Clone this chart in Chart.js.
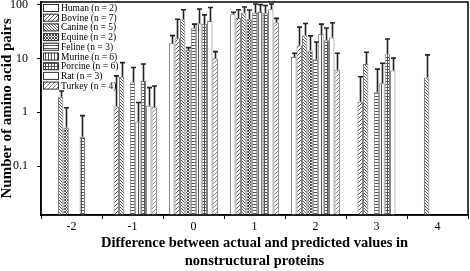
<!DOCTYPE html>
<html>
<head>
<meta charset="utf-8">
<script src="https://cdn.jsdelivr.net/npm/chart.js@4.4.1/dist/chart.umd.min.js"></script>
<style>
  html, body { margin: 0; padding: 0; background: #fff; }
  #wrap { width: 470px; height: 271px; }
</style>
</head>
<body>
<div id="wrap"><canvas id="chart" width="470" height="271"></canvas></div>
<script>
// categories on the x axis
const categories = ["-2", "-1", "0", "1", "2", "3", "4"];
const yTicks = [0.1, 1, 10, 100];

const speciesLabels = [
  "Human (n = 2)", "Bovine (n = 7)", "Canine (n = 5)", "Equine (n = 2)",
  "Feline (n = 3)", "Murine (n = 6)", "Porcine (n = 6)", "Rat (n = 3)", "Turkey (n = 4)"
];

// mean number of amino acid pairs per difference value
const human   = [null, null, 19.4, 67, 10.7, null, null];
const bovine  = [null, 1.28, 24, 57, 17.5, 1.58, null];
const canine  = [1.96, 4.6, 54, 72, 27, 7.96, 4.43];
const equine  = [0.52, null, 14.5, 54, 14.1, null, null];
const feline  = [null, 3.63, 36.8, 71, 9.7, 2.37, null];
const murine  = [null, 0.67, 45.6, 74, 28.8, 3.48, null];
const porcine = [0.35, 3.85, 44, 70, 22, 12.1, null];
const rat     = [null, 1.33, 50, 83, 24.6, 6.0, null];
const turkey  = [null, 1.24, 10.2, 47, 6.2, null, null];

// upper error (SD) for each bar
const humanErr   = [null, null, 7.4, 6, 1.9, null, null];
const bovineErr  = [null, 3.5, 30, 24, 21, 3.0, null];
const canineErr  = [0.54, 3.8, 27, 19, 18, 5.2, 7.3];
const equineErr  = [0.7, null, 1.5, 26, 12.4, null, null];
const felineErr  = [null, 3.2, 6.9, 33, 10.6, 4.0, null];
const murineErr  = [null, 0.85, 38, 27, 15, 4.7, null];
const porcineErr = [0.52, 4.1, 21, 27, 15, 11, null];
const ratErr     = [null, 1.55, 39, 21, 22, 4.2, null];
const turkeyErr  = [null, 1.85, 3.3, 9, 6.4, null, null];

const seriesValues = [human, bovine, canine, equine, feline, murine, porcine, rat, turkey];
const seriesErrors = [humanErr, bovineErr, canineErr, equineErr, felineErr, murineErr, porcineErr, ratErr, turkeyErr];

const canvas = document.getElementById("chart");
const ctx = canvas.getContext("2d");

// small pixel patterns for the hatched fills
function makePattern(size, color, test) {
  const c = document.createElement("canvas");
  c.width = size;
  c.height = size;
  const g = c.getContext("2d");
  g.fillStyle = "#fff";
  g.fillRect(0, 0, size, size);
  g.fillStyle = color;
  for (let x = 0; x < size; x++) {
    for (let y = 0; y < size; y++) {
      if (test(x, y, size)) g.fillRect(x, y, 1, 1);
    }
  }
  return ctx.createPattern(c, "repeat");
}

const fills = [
  "#ffffff",
  makePattern(4, "#555", (x, y, s) => (x + y) % s === 0),
  makePattern(3, "#555", (x, y, s) => (x - y + s) % s === 0),
  makePattern(3, "#444", (x, y, s) => (x + y) % s === 0 || (x - y + s) % s === 0),
  makePattern(3, "#555", (x, y, s) => y % s === 0),
  makePattern(3, "#555", (x, y, s) => x % s === 0),
  makePattern(3, "#555", (x, y, s) => x % s === 0 || y % s === 0),
  "#ffffff",
  makePattern(4, "#888", (x, y, s) => (x + y) % s === 0)
];

const datasets = speciesLabels.map((label, i) => ({
  label: label,
  data: seriesValues[i],
  errors: seriesErrors[i],
  backgroundColor: fills[i],
  borderColor: "#777",
  borderWidth: 1,
  barPercentage: 1.0,
  categoryPercentage: 0.8
}));

const errorBars = {
  id: "errorBars",
  afterDatasetsDraw(chart) {
    const yScale = chart.scales.y;
    const g = chart.ctx;
    g.save();
    g.strokeStyle = "#222";
    g.lineWidth = 1.6;
    chart.data.datasets.forEach((ds, i) => {
      const meta = chart.getDatasetMeta(i);
      meta.data.forEach((bar, j) => {
        const v = ds.data[j];
        const e = ds.errors[j];
        if (v == null || e == null) return;
        const yTop = yScale.getPixelForValue(v + e);
        const x = Math.round(bar.x) + 0.5;
        g.beginPath();
        g.moveTo(x, bar.y);
        g.lineTo(x, yTop);
        g.moveTo(x - 2.5, yTop);
        g.lineTo(x + 2.5, yTop);
        g.stroke();
      });
    });
    g.restore();
  }
};

const frameAndLegend = {
  id: "frameAndLegend",
  afterDraw(chart) {
    const g = chart.ctx;
    const a = chart.chartArea;
    g.save();
    g.strokeStyle = "#000";
    g.lineWidth = 1.5;
    g.strokeRect(a.left, a.top, a.right - a.left, a.bottom - a.top);

    // legend in the top left corner of the plot
    g.font = "9.5px 'Liberation Serif', serif";
    g.textBaseline = "middle";
    chart.data.datasets.forEach((ds, i) => {
      const cy = a.top + 6 + i * 9.7;
      g.fillStyle = ds.backgroundColor;
      g.fillRect(a.left + 2, cy - 4, 16, 8);
      g.lineWidth = 1;
      g.strokeStyle = "#333";
      g.strokeRect(a.left + 2.5, cy - 3.5, 15, 7);
      g.fillStyle = "#000";
      g.fillText(ds.label, a.left + 20, cy + 0.5);
    });
    g.restore();
  }
};

new Chart(ctx, {
  type: "bar",
  data: { labels: categories, datasets: datasets },
  options: {
    responsive: false,
    animation: false,
    layout: { padding: { top: 2, right: 2, left: 0, bottom: 0 } },
    plugins: {
      legend: { display: false },
      tooltip: { enabled: false }
    },
    scales: {
      x: {
        grid: { display: true, drawOnChartArea: false, drawTicks: true, tickLength: 4, color: "#000" },
        border: { display: true, color: "#000", width: 1.5 },
        ticks: { color: "#000", padding: 1, font: { family: "'Liberation Serif', serif", size: 12 } },
        title: {
          display: true,
          text: ["Difference between actual and predicted values in", "nonstructural proteins"],
          color: "#000",
          font: { family: "'Liberation Serif', serif", size: 14.5, weight: "bold", lineHeight: 1.2 },
          padding: { top: 0, bottom: 1.5 }
        },
        afterFit(scale) {
          scale.height = 56;
          scale.paddingLeft = 0;
          scale.paddingRight = 0;
        }
      },
      y: {
        type: "logarithmic",
        min: 0.0123,
        max: 113,
        grid: { display: true, drawOnChartArea: false, drawTicks: true, tickLength: 4, color: "#000" },
        border: { display: true, color: "#000", width: 1.5 },
        ticks: {
          color: "#000",
          padding: 9,
          font: { family: "'Liberation Serif', serif", size: 12 },
          callback: value => String(value)
        },
        afterBuildTicks(scale) {
          scale.ticks = yTicks.map(v => ({ value: v, major: true }));
        },
        title: {
          display: true,
          text: "Number of amino acid pairs",
          color: "#000",
          font: { family: "'Liberation Serif', serif", size: 15, weight: "bold", lineHeight: 1.0 },
          padding: { top: 0, bottom: 0 }
        },
        afterFit(scale) {
          scale.width = 41;
          scale.paddingTop = 0;
          scale.paddingBottom = 0;
        }
      }
    }
  },
  plugins: [errorBars, frameAndLegend]
});
</script>
</body>
</html>
